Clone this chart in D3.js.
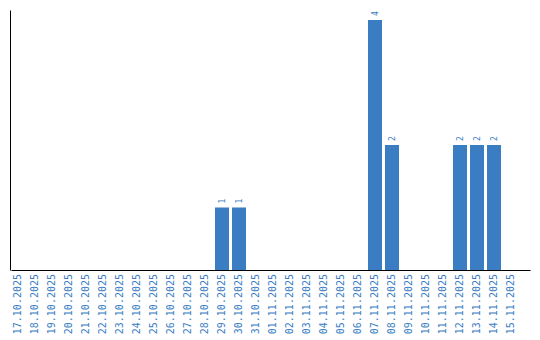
<!DOCTYPE html>
<html>
<head>
<meta charset="utf-8">
<script src="https://cdn.jsdelivr.net/npm/d3@7"></script>
<style>
  body { margin: 0; background: #fff; }
  svg { display: block; }
</style>
</head>
<body>
<svg id="chart" width="540" height="340"></svg>
<script>
// dates on the x axis
const dates = [
    "17.10.2025", "18.10.2025", "19.10.2025", "20.10.2025", "21.10.2025",
    "22.10.2025", "23.10.2025", "24.10.2025", "25.10.2025", "26.10.2025",
    "27.10.2025", "28.10.2025", "29.10.2025", "30.10.2025", "31.10.2025",
    "01.11.2025", "02.11.2025", "03.11.2025", "04.11.2025", "05.11.2025",
    "06.11.2025", "07.11.2025", "08.11.2025", "09.11.2025", "10.11.2025",
    "11.11.2025", "12.11.2025", "13.11.2025", "14.11.2025", "15.11.2025"
];
// count per date
const counts = [
    0, 0, 0, 0, 0,
    0, 0, 0, 0, 0,
    0, 0, 1, 1, 0,
    0, 0, 0, 0, 0,
    0, 4, 2, 0, 0,
    0, 2, 2, 2, 0
];

const barColor = "#3a7dc3";
const textColor = "#3a7dc3";
const plotLeft = 11, plotRight = 530, plotTop = 10, plotBottom = 270;

let svg = d3.select("#chart");

let xScale = d3.scaleBand()
    .domain(dates)
    .range([plotLeft, plotRight])
    .paddingInner(3 / 17)
    .paddingOuter(0.353)
    .align(0);

let yScale = d3.scaleLinear()
    .domain([0, d3.max(counts) * 1.04])
    .range([plotBottom, plotTop]);

let data = dates.map(function(d, i) {
    return { date: d, value: counts[i] };
});

// bars
svg.selectAll(".bar")
    .data(data.filter(function(d) { return d.value > 0; }))
    .enter()
    .append("rect")
    .attr("class", "bar")
    .attr("x", function(d) { return xScale(d.date); })
    .attr("y", function(d) { return yScale(d.value); })
    .attr("width", xScale.bandwidth())
    .attr("height", function(d) { return yScale(0) - yScale(d.value); })
    .attr("fill", barColor);

// value labels, rotated
svg.selectAll(".valueLabel")
    .data(data.filter(function(d) { return d.value > 0; }))
    .enter()
    .append("text")
    .attr("class", "valueLabel")
    .attr("transform", function(d) {
        let cx = xScale(d.date) + xScale.bandwidth() / 2;
        return "translate(" + cx + "," + (yScale(d.value) - 4) + ") rotate(-90)";
    })
    .attr("dy", "0.35em")
    .text(function(d) { return d.value; })
    .style("font-family", "DejaVu Sans Mono")
    .style("font-size", "8px")
    .style("fill", textColor)
    .style("text-anchor", "start");

// x axis
let xAxis = svg.append("g")
    .attr("transform", "translate(0," + plotBottom + ")")
    .call(d3.axisBottom(xScale).tickSize(0).tickSizeOuter(0));
xAxis.select(".domain").attr("stroke", "#000");
xAxis.selectAll("text")
    .attr("x", -4)
    .attr("y", 0)
    .attr("dy", "0.35em")
    .attr("transform", "rotate(-90)")
    .style("text-anchor", "end")
    .style("font-family", "DejaVu Sans Mono")
    .style("font-size", "10px")
    .style("fill", textColor);

// y axis, line only
let yAxis = svg.append("g")
    .attr("transform", "translate(" + (plotLeft - 1) + ",0)")
    .call(d3.axisLeft(yScale).tickValues([]).tickSizeOuter(0));
yAxis.select(".domain").attr("stroke", "#000");
</script>
</body>
</html>
